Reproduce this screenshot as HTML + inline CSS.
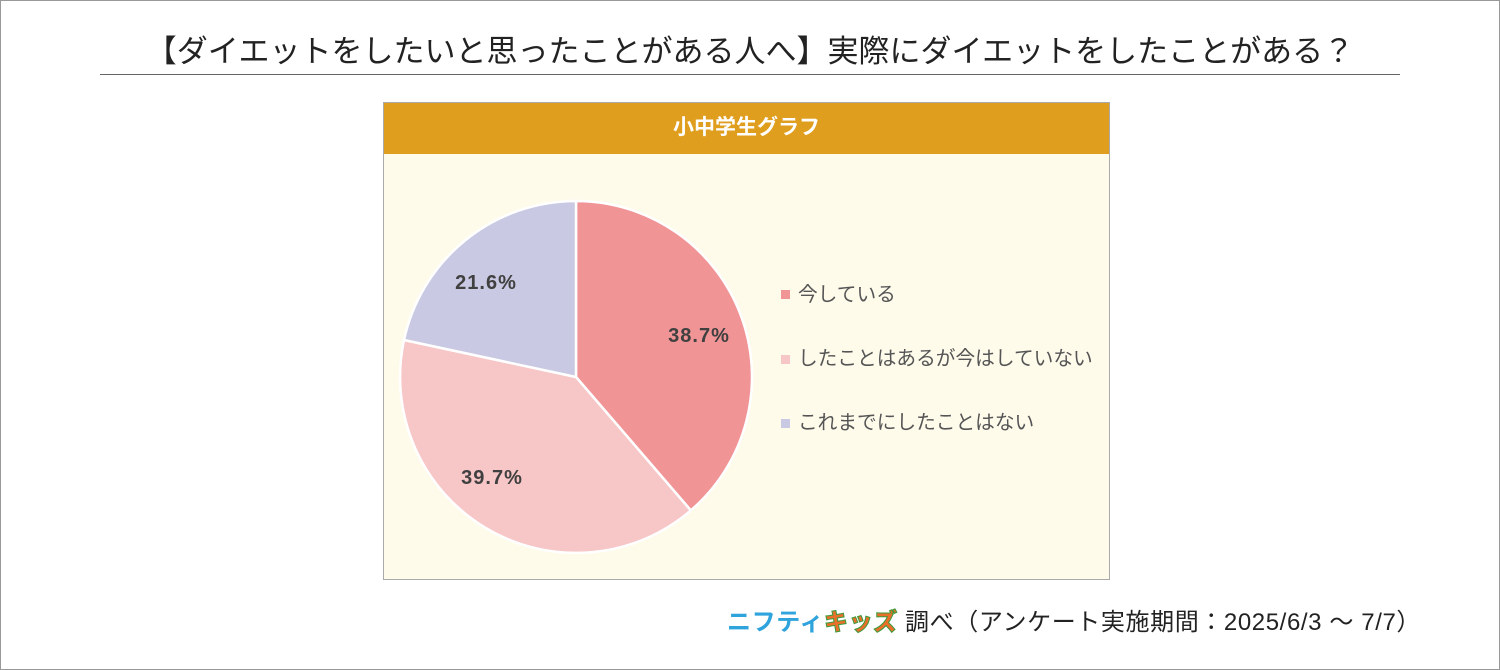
<!DOCTYPE html>
<html><head><meta charset="utf-8"><style>
body{margin:0;width:1500px;height:670px;background:#fff;font-family:"Liberation Sans","Noto Sans CJK JP",sans-serif;position:relative;overflow:hidden}
.frame{position:absolute;left:0;top:0;width:1498px;height:668px;border:1px solid #999}
.title{position:absolute;left:0;width:1500px;top:26px;text-align:center;font-size:31px;color:#222;white-space:nowrap}
.rule{position:absolute;left:100px;width:1300px;top:74px;border-top:1.5px solid #666}
.panel{position:absolute;left:383px;top:102px;width:725px;height:476px;border:1px solid #aaa;background:#fefbeb}
.head{height:51px;background:#e09e1e;color:#fff;font-weight:bold;font-size:21px;text-align:center;line-height:50px}
.foot{position:absolute;left:727px;top:602px;font-size:24px;color:#222;white-space:nowrap;letter-spacing:0.6px}
</style></head><body>
<div class="frame"></div>
<div class="title">【ダイエットをしたいと思ったことがある人へ】実際にダイエットをしたことがある？</div>
<div class="rule"></div>
<div class="panel"><div class="head">小中学生グラフ</div></div>
<svg style="position:absolute;left:0;top:0" width="1500" height="670">
<path d="M576,377 L576,201 A176,176 0 0 1 690.8,510.4 Z" fill="#f09496" stroke="#fff" stroke-width="2.5"/>
<path d="M576,377 L690.8,510.4 A176,176 0 0 1 404,340 Z" fill="#f7c6c7" stroke="#fff" stroke-width="2.5"/>
<path d="M576,377 L404,340 A176,176 0 0 1 576,201 Z" fill="#c9c9e3" stroke="#fff" stroke-width="2.5"/>
<g font-family="Liberation Sans, sans-serif" font-weight="bold" font-size="20" letter-spacing="1" fill="#404040" text-anchor="middle">
<text x="699" y="342">38.7%</text>
<text x="492" y="484">39.7%</text>
<text x="486" y="289">21.6%</text>
</g>
<rect x="781" y="290" width="9" height="9" fill="#f09496"/>
<rect x="781" y="355" width="9" height="9" fill="#f7c6c7"/>
<rect x="781" y="419" width="9" height="9" fill="#c9c9e3"/>
<g font-family="Liberation Sans, Noto Sans CJK JP, sans-serif" font-size="19.7" fill="#555">
<text x="798" y="301">今している</text>
<text x="798" y="365">したことはあるが今はしていない</text>
<text x="798" y="429">これまでにしたことはない</text>
</g>
</svg>
<div class="foot"><span style="color:#2ea3dc;font-weight:bold">ニフティ</span><span style="color:#e8702a;font-weight:900;-webkit-text-stroke:1px #3a9a3a">キッズ</span> 調べ（アンケート実施期間：2025/6/3 ～ 7/7）</div>
</body></html>
